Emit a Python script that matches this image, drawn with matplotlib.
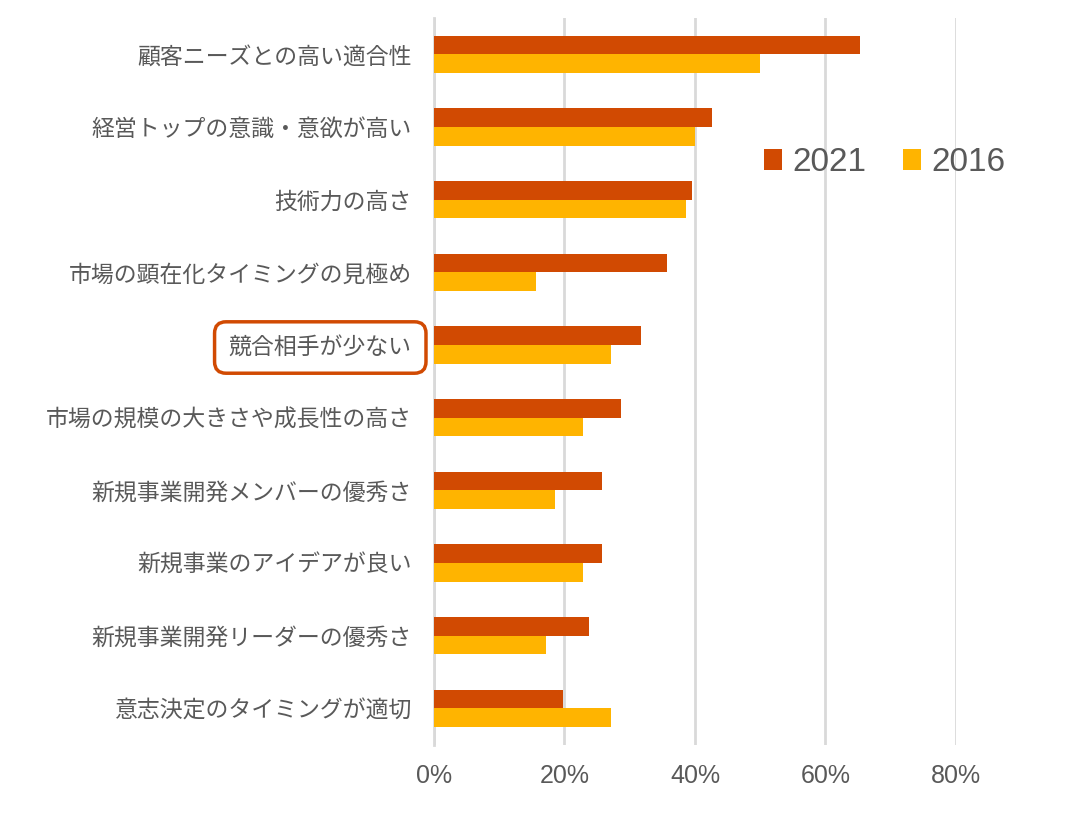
import numpy as np
import matplotlib
matplotlib.use('Agg')
from matplotlib import pyplot as plt
from matplotlib.ticker import PercentFormatter

plt.rcParams['font.family'] = ['Noto Sans CJK JP', 'DejaVu Sans']

categories = ['顧客ニーズとの高い適合性', '経営トップの意識・意欲が高い', '技術力の高さ',
              '市場の顕在化タイミングの見極め', '競合相手が少ない', '市場の規模の大きさや成長性の高さ',
              '新規事業開発メンバーの優秀さ', '新規事業のアイデアが良い',
              '新規事業開発リーダーの優秀さ', '意志決定のタイミングが適切']
values_2021 = [65.3, 42.6, 39.5, 35.7, 31.7, 28.7, 25.7, 25.7, 23.8, 19.8]
values_2016 = [50.0, 40.0, 38.6, 15.6, 27.1, 22.8, 18.5, 22.8, 17.2, 27.1]
series_names = ['2021', '2016']
highlight = '競合相手が少ない'

c2021 = '#D14A02'
c2016 = '#FFB400'
grey = '#595959'

fig = plt.figure(figsize=(10.85, 8.14), dpi=100)
ax = fig.add_axes([0.4, 0.085, 0.481, 0.893])

y = np.arange(len(categories))
h = 0.257
ax.barh(y - h / 2, values_2021, height=h, color=c2021, label=series_names[0], zorder=3)
ax.barh(y + h / 2, values_2016, height=h, color=c2016, label=series_names[1], zorder=3)

ax.set_xlim(0, 80)
ax.set_ylim(len(categories) - 0.5, -0.5)
ax.set_xticks([0, 20, 40, 60, 80])
ax.xaxis.set_major_formatter(PercentFormatter(decimals=0))
ax.set_yticks(y)
ax.set_yticklabels(categories)

ax.grid(axis='x', color='#D9D9D9', linewidth=2, zorder=0)
for s in ['top', 'right', 'bottom']:
    ax.spines[s].set_visible(False)
ax.spines['left'].set_color('#D9D9D9')
ax.spines['left'].set_linewidth(2)
ax.tick_params(axis='both', length=0)
ax.tick_params(axis='y', pad=16, labelsize=16.5, labelcolor=grey)
ax.tick_params(axis='x', pad=14, labelsize=18, labelcolor=grey)
for t in ax.get_xticklabels():
    t.set_family(['Liberation Sans', 'DejaVu Sans'])

for t in ax.get_yticklabels():
    if t.get_text() == highlight:
        t.set_bbox(dict(boxstyle='round,pad=0.62,rounding_size=0.5', fc='white',
                        ec=c2021, lw=2.5))

leg = fig.legend(loc='center', bbox_to_anchor=(0.815, 0.80), ncol=2, frameon=False,
                 handlelength=0.55, handleheight=0.55, handletextpad=0.3,
                 columnspacing=1.1, prop={'family': ['Liberation Sans', 'DejaVu Sans'], 'size': 24})
for t in leg.get_texts():
    t.set_color(grey)

fig.savefig('out.png', dpi=100)
